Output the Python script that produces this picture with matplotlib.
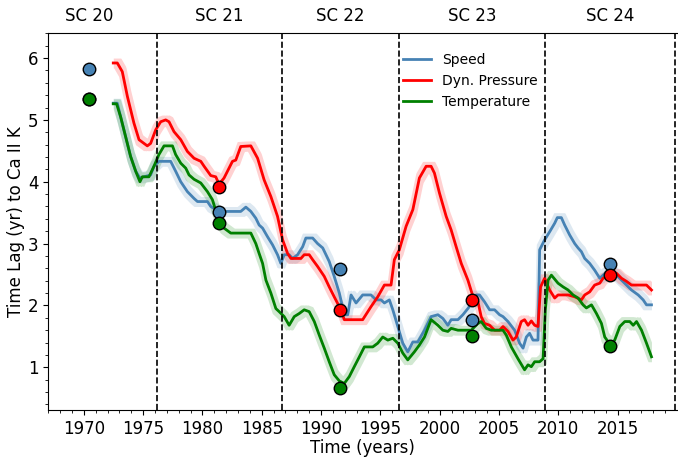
import numpy as np
import matplotlib
matplotlib.use("Agg")
import matplotlib.pyplot as plt
from matplotlib.ticker import MultipleLocator
from matplotlib.transforms import blended_transform_factory

# solar cycle boundaries (minima) and cycle labels
cycle_edges = [1976.2, 1986.7, 1996.6, 2008.9, 2019.85]
cycle_names = ["SC 20", "SC 21", "SC 22", "SC 23", "SC 24"]
cycle_mid = [1970.42, 1981.40, 1991.62, 2002.72, 2014.40]

# per-cycle lags (dots)
speed_cycle = [5.83, 3.51, 2.59, 1.77, 2.67]
press_cycle = [5.34, 3.92, 1.93, 2.09, 2.49]
temp_cycle = [5.34, 3.33, 0.67, 1.51, 1.34]

# running lag, solar wind speed
speed_t = [1972.48, 1972.82, 1973.10, 1973.52, 1973.94, 1974.37, 1974.73, 1975.07, 1975.63,
           1975.91, 1976.33, 1977.32, 1977.74, 1978.17, 1978.73, 1979.29, 1979.58, 1980.42,
           1980.70, 1981.40, 1982.25, 1983.23, 1983.66, 1984.08, 1984.50, 1984.78, 1985.07,
           1985.49, 1985.91, 1986.33, 1986.61, 1986.89, 1987.31, 1987.60, 1988.02, 1988.45,
           1988.72, 1989.29, 1989.71, 1990.14, 1990.69, 1991.11, 1991.54, 1991.96, 1992.25,
           1992.53, 1992.95, 1993.51, 1994.21, 1994.64, 1995.06, 1995.34, 1995.76, 1996.05,
           1996.47, 1996.89, 1997.31, 1997.74, 1998.16, 1998.72, 1999.28, 1999.85, 2000.27,
           2000.69, 2000.97, 2001.54, 2001.96, 2002.38, 2002.80, 2003.08, 2003.36, 2003.78,
           2004.21, 2004.63, 2005.05, 2005.34, 2005.76, 2006.32, 2006.74, 2007.03, 2007.31,
           2007.58, 2007.87, 2008.29, 2008.43, 2008.85, 2009.27, 2009.70, 2009.92, 2010.26,
           2010.54, 2010.96, 2011.39, 2011.67, 2011.95, 2012.23, 2012.65, 2013.07, 2013.50,
           2013.78, 2014.40, 2014.91, 2015.33, 2015.75, 2016.17, 2016.74, 2017.16, 2017.44,
           2017.86]
speed_v = [5.27, 5.27, 5.05, 4.73, 4.41, 4.17, 4.06, 4.08, 4.11,
           4.25, 4.33, 4.33, 4.17, 4.00, 3.84, 3.73, 3.68, 3.68,
           3.60, 3.52, 3.52, 3.52, 3.59, 3.52, 3.41, 3.30, 3.25,
           3.11, 2.98, 2.82, 2.68, 2.82, 2.82, 2.76, 2.82, 2.95,
           3.09, 3.09, 3.00, 2.93, 2.71, 2.47, 2.20, 1.85, 1.85,
           2.17, 2.04, 2.17, 2.17, 2.09, 2.09, 2.04, 2.09, 1.93,
           1.66, 1.39, 1.25, 1.41, 1.41, 1.60, 1.82, 1.85, 1.79,
           1.68, 1.77, 1.77, 1.85, 1.95, 2.06, 2.17, 2.17, 2.06,
           1.93, 1.93, 1.85, 1.82, 1.74, 1.60, 1.39, 1.31, 1.49,
           1.55, 1.44, 1.44, 2.90, 3.06, 3.19, 3.33, 3.42, 3.42,
           3.30, 3.14, 3.00, 2.93, 2.87, 2.76, 2.68, 2.57, 2.44,
           2.49, 2.60, 2.49, 2.41, 2.33, 2.25, 2.17, 2.09, 2.01,
           2.01]

# running lag, dynamic pressure
press_t = [1972.48, 1972.82, 1973.24, 1973.67, 1974.22, 1974.65, 1975.35, 1975.63, 1976.06,
           1976.48, 1976.90, 1977.18, 1977.60, 1978.17, 1978.73, 1979.29, 1979.86, 1980.14,
           1980.70, 1981.12, 1981.40, 1981.82, 1982.53, 1982.81, 1983.23, 1984.08, 1984.65,
           1985.20, 1985.77, 1986.33, 1986.76, 1987.18, 1987.46, 1988.30, 1988.58, 1989.00,
           1989.29, 1989.71, 1990.27, 1990.69, 1991.11, 1991.62, 1991.96, 1993.51, 1994.21,
           1994.78, 1995.34, 1995.90, 1996.18, 1996.60, 1997.17, 1997.74, 1998.29, 1998.86,
           1999.28, 1999.56, 1999.98, 2000.55, 2000.97, 2001.39, 2001.82, 2002.38, 2002.80,
           2003.23, 2003.50, 2003.78, 2004.21, 2004.63, 2005.05, 2005.34, 2005.76, 2006.18,
           2006.46, 2006.88, 2007.16, 2007.45, 2007.73, 2008.01, 2008.29, 2008.51, 2008.85,
           2009.27, 2009.70, 2009.98, 2010.83, 2011.39, 2011.95, 2012.23, 2012.65, 2013.07,
           2013.50, 2013.78, 2014.40, 2014.91, 2015.33, 2015.75, 2016.17, 2017.44, 2017.86]
press_v = [5.92, 5.92, 5.78, 5.38, 4.95, 4.68, 4.58, 4.62, 4.84,
           4.97, 5.00, 4.97, 4.81, 4.68, 4.49, 4.38, 4.33, 4.25,
           4.10, 4.08, 3.96, 4.06, 4.33, 4.35, 4.57, 4.58, 4.38,
           4.03, 3.76, 3.44, 3.06, 2.84, 2.76, 2.76, 2.82, 2.82,
           2.74, 2.63, 2.47, 2.30, 2.14, 1.95, 1.77, 1.77, 1.98,
           2.14, 2.33, 2.33, 2.74, 2.90, 3.28, 3.55, 4.06, 4.25,
           4.25, 4.14, 3.82, 3.44, 3.22, 2.95, 2.68, 2.41, 2.15,
           2.06, 1.82, 1.71, 1.68, 1.60, 1.60, 1.66, 1.58, 1.44,
           1.49, 1.74, 1.77, 1.68, 1.75, 1.68, 1.66, 2.30, 2.44,
           2.25, 2.12, 2.17, 2.17, 2.14, 2.09, 2.17, 2.22, 2.33,
           2.36, 2.44, 2.49, 2.52, 2.44, 2.39, 2.33, 2.33, 2.25]

# running lag, temperature
temp_t = [1972.48, 1972.76, 1973.10, 1973.52, 1973.94, 1974.37, 1974.73, 1974.93, 1975.49,
          1975.91, 1976.33, 1976.76, 1977.47, 1977.74, 1978.17, 1978.59, 1978.87, 1979.29,
          1979.86, 1980.42, 1980.84, 1981.40, 1981.82, 1982.39, 1984.08, 1984.50, 1984.78,
          1985.07, 1985.35, 1985.77, 1986.19, 1986.47, 1986.89, 1987.31, 1987.74, 1988.16,
          1988.58, 1989.00, 1989.43, 1989.85, 1990.27, 1990.69, 1991.11, 1991.54, 1991.96,
          1992.38, 1992.80, 1993.23, 1993.65, 1994.36, 1994.78, 1995.20, 1995.63, 1996.05,
          1996.47, 1996.89, 1997.31, 1997.87, 1998.29, 1998.72, 1999.28, 1999.85, 2000.27,
          2000.69, 2000.97, 2001.54, 2002.66, 2003.23, 2003.50, 2003.93, 2004.35, 2005.34,
          2005.62, 2006.04, 2006.60, 2007.16, 2007.45, 2007.73, 2008.01, 2008.43, 2008.72,
          2008.91, 2009.14, 2009.42, 2009.98, 2010.41, 2010.83, 2011.25, 2011.67, 2012.09,
          2012.37, 2012.80, 2013.22, 2013.64, 2013.92, 2014.40, 2014.76, 2015.19, 2015.61,
          2016.03, 2016.32, 2016.60, 2017.02, 2017.44, 2017.86]
temp_v = [5.26, 5.26, 5.05, 4.73, 4.41, 4.17, 4.00, 4.08, 4.08,
          4.25, 4.44, 4.58, 4.58, 4.44, 4.30, 4.22, 4.11, 4.04,
          3.98, 3.84, 3.71, 3.36, 3.25, 3.17, 3.17, 3.00, 2.84,
          2.68, 2.41, 2.20, 1.95, 1.90, 1.82, 1.68, 1.82, 1.87,
          1.93, 1.90, 1.74, 1.52, 1.31, 1.09, 0.88, 0.78, 0.74,
          0.85, 1.01, 1.17, 1.33, 1.33, 1.39, 1.49, 1.44, 1.47,
          1.39, 1.23, 1.12, 1.25, 1.36, 1.49, 1.77, 1.68, 1.60,
          1.58, 1.63, 1.60, 1.60, 1.71, 1.74, 1.63, 1.60, 1.60,
          1.52, 1.33, 1.14, 0.96, 1.04, 1.01, 1.09, 1.09, 1.14,
          1.93, 2.41, 2.49, 2.36, 2.30, 2.25, 2.17, 2.12, 2.01,
          1.96, 2.01, 1.87, 1.71, 1.49, 1.36, 1.44, 1.66, 1.74,
          1.74, 1.68, 1.74, 1.60, 1.39, 1.17]


def envelope(t, v, dt=0.3, pad=0.08):
    # uncertainty band: min/max of the curve over a small time window
    t = np.asarray(t)
    v = np.asarray(v)
    tt = np.linspace(t[0], t[-1], 800)
    shifted = np.array([np.interp(tt + s, t, v) for s in np.linspace(-dt, dt, 9)])
    return tt, shifted.min(axis=0) - pad, shifted.max(axis=0) + pad


fig = plt.figure(figsize=(6.78, 4.58), dpi=100)
ax = fig.add_axes([0.0712, 0.1048, 0.9266, 0.8225])

series = [
    ("Speed", speed_t, speed_v, speed_cycle, "steelblue"),
    ("Dyn. Pressure", press_t, press_v, press_cycle, "red"),
    ("Temperature", temp_t, temp_v, temp_cycle, "green"),
]

for name, t, v, cyc, col in series:
    tt, lo, hi = envelope(t, v)
    ax.fill_between(tt, lo, hi, color=col, alpha=0.18, lw=0)
    ax.plot(t, v, color=col, lw=2, label=name)

for name, t, v, cyc, col in series:
    ax.plot(cycle_mid, cyc, "o", color=col, mec="black", mew=1, ms=9, zorder=5)

for x in cycle_edges:
    ax.axvline(x, color="black", ls="--", lw=1.2)

trans = blended_transform_factory(ax.transData, ax.transAxes)
for x, s in zip(cycle_mid, cycle_names):
    ax.text(x, 1.022, s, transform=trans, ha="center", va="bottom", fontsize=12)

ax.set_xlim(1967.0, 2019.97)
ax.set_ylim(0.31, 6.4)
ax.xaxis.set_major_locator(MultipleLocator(5))
ax.xaxis.set_minor_locator(MultipleLocator(1))
ax.yaxis.set_major_locator(MultipleLocator(1))
ax.yaxis.set_minor_locator(MultipleLocator(0.2))
ax.tick_params(labelsize=12)
ax.spines["right"].set_visible(False)

ax.set_xlabel("Time (years)", fontsize=12, labelpad=1)
ax.set_ylabel("Time Lag (yr) to Ca II K", fontsize=12, labelpad=2)
ax.legend(loc="upper left", bbox_to_anchor=(0.545, 0.98), frameon=False, fontsize=10)

fig.savefig("out.png", dpi=100)
